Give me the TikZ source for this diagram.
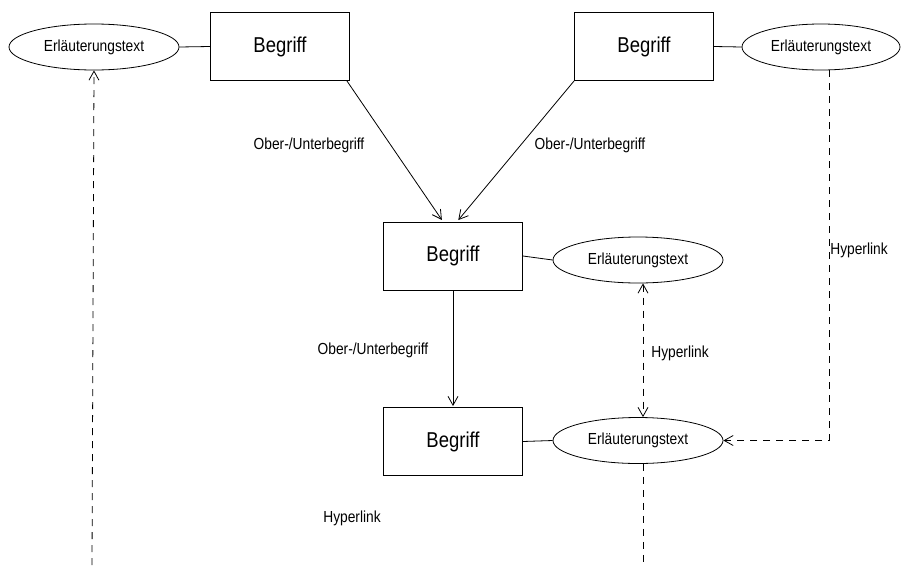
\documentclass[tikz,border=0pt]{standalone}
\usepackage{fontspec}
\setmainfont[FakeStretch=0.86]{Liberation Sans}
\usetikzlibrary{shapes.geometric,arrows.meta,calc}
\begin{document}
\begin{tikzpicture}[x=1pt,y=-1pt,
  line width=0.8pt,
  begbox/.style={draw, rectangle, minimum width=139pt, minimum height=68pt, inner sep=0pt, font=\fontsize{21.5}{25}\selectfont},
  erl/.style={draw, ellipse, minimum width=170pt, minimum height=46pt, inner sep=0pt, font=\fontsize{16}{19}\selectfont},
  lbl/.style={font=\fontsize{16}{19}\selectfont},
  arr/.style={-{Straight Barb[length=9pt,width=10pt]}},
  darr/.style={{Straight Barb[length=9pt,width=10pt]}-{Straight Barb[length=9pt,width=10pt]}},
  dsh/.style={dash pattern=on 7pt off 6pt}
]
\useasboundingbox (0,0) rectangle (910,565);
% nodes
\node[erl] (e1) at (94,47) {Erläuterungstext};
\node[begbox] (b1) at (280,46.5) {Begriff};
\node[begbox] (b2) at (644,46.5) {Begriff};
\node[erl, minimum width=158pt] (e2) at (821,47) {Erläuterungstext};
\node[begbox] (b3) at (453,256) {Begriff};
\node[erl] (e3) at (638,260) {Erläuterungstext};
\node[begbox] (b4) at (453,441.5) {Begriff};
\node[erl] (e4) at (638,440.5) {Erläuterungstext};
\coordinate (l1) at (92,565);
\coordinate (l2) at (643,565);
% solid connectors
\draw (e1.east) -- (b1.west);
\draw (b2.east) -- (e2.west);
\draw (b3.east) -- (e3.west);
\draw (b4.east) -- (e4.west);
\draw[arr, shorten >=2pt] ([xshift=-3pt]b1.south east) -- ([xshift=-10pt]b3.north);
\draw[arr, shorten >=2pt] (b2.south west) -- ([xshift=4pt]b3.north);
\draw[arr, shorten >=1pt] (b3.south) -- (b4.north);
% dashed connectors
\draw[darr, dsh] ([xshift=5pt]e3.south) -- ([xshift=5pt]e4.north);
\draw[arr, dsh] ([xshift=8pt]e2.south) |- (e4.east);
\draw[arr, dsh] (l1) -- (e1.south);
\draw[dsh] ([xshift=5pt]e4.south) -- (l2);
% labels
\node[lbl] at (309,145) {Ober-/Unterbegriff};
\node[lbl] at (590,145) {Ober-/Unterbegriff};
\node[lbl] at (373,350) {Ober-/Unterbegriff};
\node[lbl] at (680,353) {Hyperlink};
\node[lbl] at (859,250) {Hyperlink};
\node[lbl] at (352,518) {Hyperlink};
\end{tikzpicture}
\end{document}
